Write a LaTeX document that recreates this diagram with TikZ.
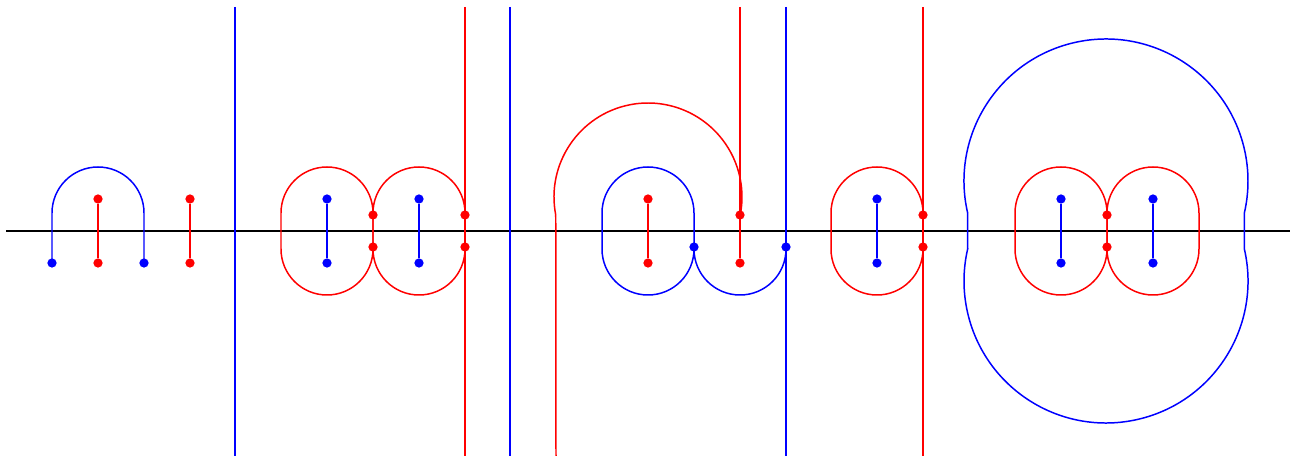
\documentclass[tikz,border=0pt]{standalone}
\usetikzlibrary{calc}
\tikzset{
  rdot/.style={circle,fill=red,inner sep=0pt,minimum size=.185cm},
  bdot/.style={circle,fill=blue,inner sep=0pt,minimum size=.185cm},
  rln/.style={draw=red,line width=.85pt},
  bln/.style={draw=blue,line width=.85pt},
  axs/.style={draw=black,line width=.85pt},
}
\begin{document}
\begin{tikzpicture}[x=.02cm,y=.02cm]
  \useasboundingbox (0,-228) rectangle (1306,231);
  \draw[axs] (6,0) -- (1290,0);
  % the dots
  \foreach \n/\x/\y in {b1/52/-32,b2/144/-32,b3t/327/32,b3b/327/-32,b4t/419/32,b4b/419/-32,
                        b5/694/-16,b6/786/-16,b7t/877/32,b7b/877/-32,
                        b8t/1061/32,b8b/1061/-32,b9t/1153/32,b9b/1153/-32}
    \node[bdot] (\n) at (\x,\y) {};
  \foreach \n/\x/\y in {r1t/98/32,r1b/98/-32,r2t/190/32,r2b/190/-32,r3t/373/16,r3b/373/-16,
                        r4t/465/16,r4b/465/-16,r5t/648/32,r5b/648/-32,r6t/740/16,r6b/740/-32,
                        r7t/923/16,r7b/923/-16,r8t/1107/16,r8b/1107/-16}
    \node[rdot] (\n) at (\x,\y) {};
  % long vertical lines
  \foreach \x/\c [count=\i] in {235/bln,465/rln,510/bln,786/bln,923/rln}{
    \coordinate (top\i) at (\x,224);
    \coordinate (bot\i) at (\x,-225);
    \draw[\c] (top\i) -- (bot\i);
  }
  \coordinate (top6) at (740,224);
  \coordinate (bot6) at (556,-225);
  % short segments
  \draw[rln] (r1t) -- (r1b);
  \draw[rln] (r2t) -- (r2b);
  \draw[rln] (r5t) -- (r5b);
  \foreach \n in {b3,b4,b7,b8,b9} \draw[bln] (\n t) -- (\n b);
  % first arch
  \draw[bln] (b1.center) -- (52,18) arc[start angle=180,end angle=0,radius=46] -- (b2.center);
  % red ovals
  \foreach \c in {327,419,877,1061,1153}
    \draw[rln] (\c-46,-18) -- (\c-46,18) arc[start angle=180,end angle=0,radius=46]
               -- (\c+46,-18) arc[start angle=0,end angle=-180,radius=46] -- cycle;
  % blue oval and lower arc
  \draw[bln] (602,-18) -- (602,18) arc[start angle=180,end angle=0,radius=46]
             -- (694,-18) arc[start angle=0,end angle=-180,radius=46] -- cycle;
  \draw[bln] (b5.center) -- (694,-18) arc[start angle=180,end angle=360,radius=46] -- (b6.center);
  % big red arc
  \draw[rln] (bot6) -- (555.74,16) arc[start angle=191.04,end angle=-11.04,radius=94] -- (r6t.center);
  \draw[rln] (top6) -- (r6t.center) -- (r6b);
  % big blue loop
  \draw[bln] (967.65,-18) -- (967.65,18) arc[start angle=193.02,end angle=-13.02,radius=142]
             -- (1244.35,-18) arc[start angle=13.02,end angle=-193.02,radius=142] -- cycle;
\end{tikzpicture}
\end{document}
